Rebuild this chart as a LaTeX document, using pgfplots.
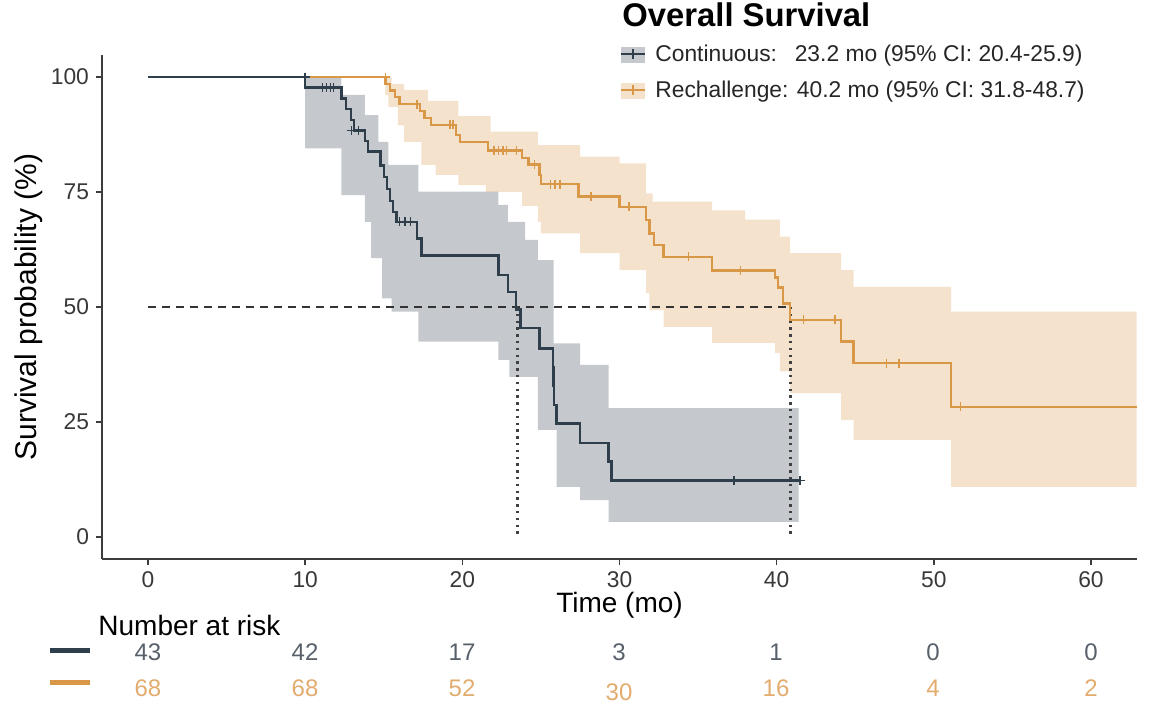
\documentclass[border=0pt]{standalone}
\usepackage{fontspec}
\setmainfont{Liberation Sans}
\usepackage{pgfplots}
\usepackage{pgfplotstable}
\pgfplotsset{compat=1.18}
\usepgfplotslibrary{fillbetween}

\definecolor{cont}{RGB}{46,62,74}
\definecolor{rech}{RGB}{216,152,72}
\definecolor{axisgrey}{RGB}{60,60,60}
\definecolor{riskcont}{RGB}{88,96,106}
\definecolor{riskrech}{RGB}{226,172,110}

% Kaplan-Meier step curves (time in months, survival in %)
\pgfplotstableread{
x y
0 100
10.0 97.7
12.3 95.3
12.6 93.0
12.9 90.7
13.1 88.4
13.8 86.1
14.0 83.8
14.8 80.8
15.0 78.2
15.2 75.6
15.4 73.0
15.6 70.7
15.8 68.5
17.1 64.9
17.4 61.2
22.3 57.0
22.9 53.3
23.4 49.5
23.7 45.4
24.9 41.0
25.75 36.9
25.8 32.8
25.85 28.7
26.0 24.7
27.5 20.5
29.3 16.4
29.5 12.3
41.5 12.3
}\contcurve

\pgfplotstableread{
x y
0 100
15.1 98.5
15.4 97.1
15.7 95.6
16.0 94.1
17.3 92.6
17.6 91.1
18.0 89.6
19.6 87.4
19.85 85.9
21.65 84.0
23.8 82.4
24.2 81.0
24.9 78.7
25.0 76.7
27.4 74.0
30.0 71.8
31.7 68.9
31.9 66.0
32.2 63.5
32.8 60.9
35.9 57.9
39.9 56.4
40.1 54.2
40.4 50.8
40.85 47.2
44.1 42.5
44.9 37.8
51.1 28.3
62.9 28.3
}\rechcurve

% 95% confidence bands
\pgfplotstableread{
x up lo
0 100 100
10.0 100 84.5
12.3 96.1 74.3
13.8 91.7 68.5
14.2 91.7 60.6
14.65 85.9 60.6
14.9 85.9 51.9
15.3 80.9 51.9
15.5 80.9 49.0
17.2 75.1 42.5
22.3 72.2 38.5
22.9 68.5 38.5
23.0 68.5 34.8
24.0 64.6 34.8
24.8 60.2 23.3
25.8 42.1 23.3
26.0 42.1 10.9
27.5 37.4 8.0
29.3 28.0 3.3
41.4 28.0 3.3
}\contband

\pgfplotstableread{
x up lo
0 100 100
15.1 100 96.0
15.3 100 93.5
15.5 98.5 93.5
15.9 98.5 89.5
16.3 97.2 85.9
17.4 97.2 80.9
17.8 94.8 80.9
18.3 94.8 78.7
19.75 91.5 76.5
21.5 91.5 75.0
21.8 88.1 75.0
23.8 88.1 72.0
24.8 85.2 68.5
25.0 85.2 66.0
27.5 82.7 61.7
30.0 81.2 58.0
31.7 74.7 53.0
31.9 74.7 49.3
32.1 72.9 49.3
32.8 72.9 45.7
35.9 71.0 42.2
38.0 69.0 42.2
39.9 69.0 40.0
40.2 65.3 36.0
40.85 61.7 31.3
44.1 58.0 25.4
44.9 54.4 21.1
51.1 49.0 10.9
62.9 49.0 10.9
}\rechband

% censoring times
\pgfplotstableread{
x y
10.0 100
11.1 97.7
11.35 97.7
11.6 97.7
11.8 97.7
12.95 88.4
13.4 88.4
16.0 68.5
16.35 68.5
16.7 68.5
37.3 12.3
41.5 12.3
}\contcens

\pgfplotstableread{
x y
15.1 100
17.1 94.1
19.2 89.6
19.4 89.6
22.0 84.0
22.3 84.0
22.6 84.0
22.8 84.0
23.45 84.0
24.6 81.0
25.6 76.7
25.9 76.7
26.2 76.7
28.2 74.0
30.6 71.8
34.4 60.9
37.7 57.9
41.7 47.2
43.7 47.2
47.0 37.8
47.8 37.8
51.7 28.3
}\rechcens

\begin{document}
\begin{tikzpicture}
\begin{axis}[
  at={(51pt,82.5pt)}, anchor=south west,
  scale only axis, width=517.5pt, height=252pt,
  xmin=-2.93, xmax=62.93, ymin=-4.78, ymax=104.78,
  axis lines*=left,
  axis line style={draw=axisgrey, line width=0.75pt, -},
  xtick={0,10,20,30,40,50,60},
  ytick={0,25,50,75,100},
  tick align=outside, major tick length=3pt,
  tick style={draw=axisgrey, line width=0.75pt},
  ticklabel style={font=\fontsize{11.4}{13}\selectfont, text=black!78},
  /pgf/number format/assume math mode=true,
  xlabel={Time (mo)},
  xlabel style={at={(axis description cs:0.5,-0.091)}, anchor=center,
    font=\fontsize{14}{16}\selectfont},
  ylabel={Survival probability (\%)},
  ylabel style={at={(axis description cs:-0.0705,0.5)}, anchor=center,
    font=\fontsize{15}{17}\selectfont},
  clip=false,
]
% confidence bands
\addplot[name path=cu, draw=none, const plot, forget plot] table[x=x,y=up]{\contband};
\addplot[name path=cl, draw=none, const plot, forget plot] table[x=x,y=lo]{\contband};
\addplot[fill=cont, fill opacity=0.28, draw=none, forget plot] fill between[of=cu and cl];
\addplot[name path=ru, draw=none, const plot, forget plot] table[x=x,y=up]{\rechband};
\addplot[name path=rl, draw=none, const plot, forget plot] table[x=x,y=lo]{\rechband};
\addplot[fill=rech, fill opacity=0.28, draw=none, forget plot] fill between[of=ru and rl];

% median reference lines
\addplot[black!80, line width=1.2pt, dash pattern=on 4pt off 3pt, forget plot]
  coordinates {(0,50) (40.85,50)};
\addplot[black!75, line width=1.5pt, dash pattern=on 1.2pt off 2.2pt, forget plot]
  coordinates {(23.48,50) (23.48,0)};
\addplot[black!75, line width=1.5pt, dash pattern=on 1.2pt off 2.2pt, forget plot]
  coordinates {(40.85,50) (40.85,0)};

% survival curves
\addplot[rech, line width=1.2pt, const plot, forget plot] table{\rechcurve};
\addplot[cont, line width=1.2pt, const plot, forget plot] table{\contcurve};
\addplot[only marks, mark=+, mark size=2.2pt, rech, mark options={line width=0.8pt}, forget plot] table{\rechcens};
\addplot[only marks, mark=+, mark size=2.2pt, cont, mark options={line width=0.8pt}, forget plot] table{\contcens};
\end{axis}

\begin{scope}[x=0.5pt,y=0.5pt]
\path[use as bounding box] (0,0) rectangle (1172,724);
% title and legend
\node[anchor=base west, inner sep=0pt, font=\fontsize{16.4}{18}\selectfont\bfseries] at (622,697) {Overall Survival};
\fill[cont, opacity=0.28] (621,661) rectangle (645,677);
\draw[cont, line width=1.2pt] (621,670) -- (645,670);
\draw[cont, line width=0.8pt] (633,665) -- (633,675);
\fill[rech, opacity=0.28] (621,625) rectangle (645,641);
\draw[rech, line width=1.2pt] (621,634) -- (645,634);
\draw[rech, line width=0.8pt] (633,629) -- (633,639);
\node[anchor=base west, inner sep=0pt, font=\fontsize{11.4}{13}\selectfont, text=black!85] at (655,662)
  {\rlap{Continuous:}\phantom{Rechallenge:} 23.2 mo (95\% CI: 20.4-25.9)};
\node[anchor=base west, inner sep=0pt, font=\fontsize{11.4}{13}\selectfont, text=black!85] at (655,626)
  {Rechallenge: 40.2 mo (95\% CI: 31.8-48.7)};

% number at risk
\node[anchor=west, inner sep=0pt, font=\fontsize{14}{16}\selectfont] at (98,99) {Number at risk};
\draw[cont, line width=2.5pt] (50,74) -- (90,74);
\draw[rech, line width=2.5pt] (50,42) -- (90,42);
\begin{scope}[font=\fontsize{12}{14}\selectfont]
\node[text=riskcont] at (148,72) {43};
\node[text=riskcont] at (305,72) {42};
\node[text=riskcont] at (462,72) {17};
\node[text=riskcont] at (619,72) {3};
\node[text=riskcont] at (776,72) {1};
\node[text=riskcont] at (933,72) {0};
\node[text=riskcont] at (1091,72) {0};
\node[text=riskrech] at (148,36) {68};
\node[text=riskrech] at (305,36) {68};
\node[text=riskrech] at (462,36) {52};
\node[text=riskrech] at (619,32) {30};
\node[text=riskrech] at (776,36) {16};
\node[text=riskrech] at (933,36) {4};
\node[text=riskrech] at (1091,36) {2};
\end{scope}
\end{scope}
\end{tikzpicture}
\end{document}
